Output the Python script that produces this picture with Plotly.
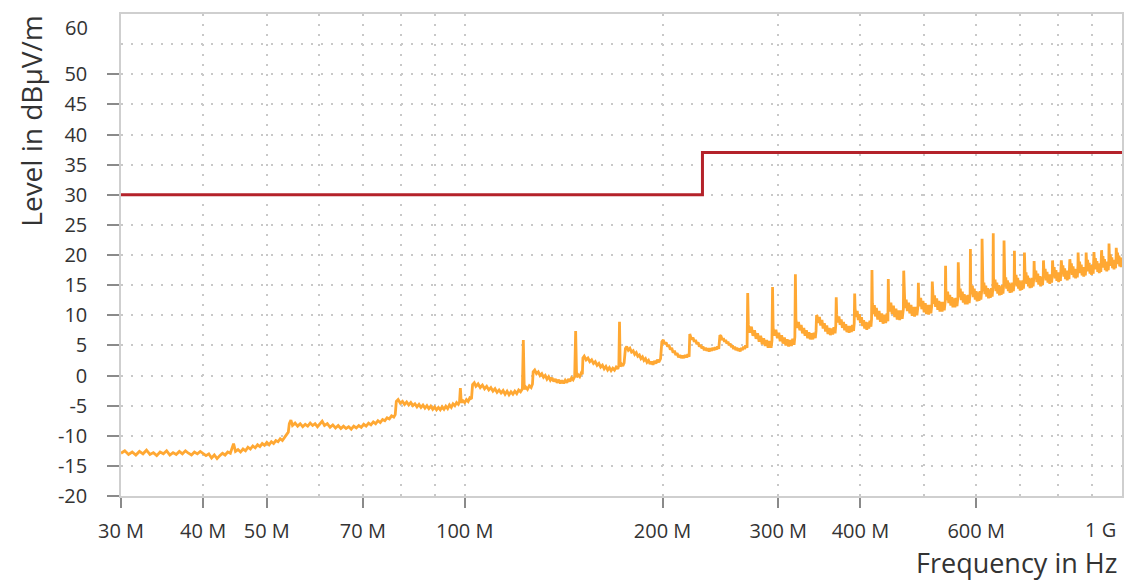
import plotly.graph_objects as go

# ---------------- data ----------------
# limit line: level in dBuV/m, frequency in MHz
limit_freq_mhz = [30, 230, 230, 1000]
limit_level = [30, 30, 37, 37]

# measured trace, (frequency MHz, level dBuV/m)
trace_30_79 = [
    (30.0, -12.9), (30.4, -12.5), (30.8, -13.1), (31.2, -12.7), (31.6, -13.2), (32.0, -12.6),
    (32.4, -13.0), (32.8, -12.4), (33.2, -13.1), (33.6, -12.8), (34.0, -13.3), (34.4, -12.7),
    (34.8, -13.0), (35.2, -12.5), (35.6, -13.2), (36.0, -12.8), (36.4, -13.1), (36.8, -12.6),
    (37.2, -13.0), (37.6, -12.5), (38.0, -12.9), (38.4, -13.2), (38.8, -12.7), (39.2, -13.0),
    (39.6, -12.6), (40.0, -12.9), (40.4, -13.3), (40.8, -13.0), (41.2, -13.7), (41.6, -13.2),
    (42.0, -13.8), (42.4, -13.3), (42.8, -12.9), (43.2, -13.2), (43.6, -12.7), (44.0, -12.9),
    (44.5, -11.3), (44.8, -12.6), (45.2, -12.3), (45.6, -12.7), (46.0, -12.2), (46.4, -12.5),
    (46.8, -11.9), (47.2, -12.2), (47.6, -11.7), (48.0, -12.0), (48.4, -11.5), (48.8, -11.8),
    (49.2, -11.3), (49.6, -11.6), (50.0, -11.1), (50.4, -11.5), (50.8, -11.0), (51.2, -11.3),
    (51.6, -10.8), (52.0, -11.0), (52.4, -10.5), (52.8, -10.8), (53.2, -10.2), (53.6, -9.8),
    (53.9, -9.4), (54.1, -8.0), (54.4, -7.4), (54.7, -8.3), (55.2, -7.9), (55.7, -8.4),
    (56.2, -8.0), (56.7, -8.5), (57.2, -8.1), (57.7, -8.4), (58.2, -7.9), (58.7, -8.3),
    (59.2, -8.0), (59.7, -8.5), (60.2, -8.1), (60.7, -7.6), (61.2, -8.3), (61.8, -8.0),
    (62.4, -8.6), (63.0, -8.2), (63.6, -8.7), (64.2, -8.3), (64.8, -8.8), (65.4, -8.4),
    (66.0, -8.8), (66.6, -8.5), (67.2, -8.9), (67.8, -8.4), (68.4, -8.7), (69.0, -8.3),
    (69.6, -8.6), (70.2, -8.1), (70.8, -8.4), (71.4, -7.9), (72.0, -8.2), (72.6, -7.7),
    (73.2, -8.0), (73.8, -7.5), (74.4, -7.8), (75.0, -7.3), (75.6, -7.5), (76.2, -7.0),
    (76.8, -7.2), (77.4, -6.7), (78.0, -6.9), (78.4, -6.5),
]
trace_79_200 = [
    (78.7, -4.3), (79.2, -4.0), (79.8, -4.6), (80.4, -4.3), (81.0, -4.8), (81.6, -4.4),
    (82.2, -4.9), (82.8, -4.5), (83.4, -5.0), (84.0, -4.7), (84.6, -5.2), (85.2, -4.8),
    (85.8, -5.3), (86.4, -4.9), (87.0, -5.4), (87.6, -5.0), (88.2, -5.5), (88.8, -5.1),
    (89.4, -5.6), (90.0, -5.2), (90.6, -5.7), (91.2, -5.3), (91.8, -5.7), (92.4, -5.2),
    (93.0, -5.6), (93.6, -5.1), (94.2, -5.5), (94.8, -4.9), (95.4, -5.3), (96.0, -4.7),
    (96.6, -5.0), (97.2, -4.5), (97.8, -4.8), (98.2, -4.4), (98.5, -2.1), (98.8, -4.5),
    (99.4, -4.2), (100.0, -4.5), (100.6, -4.0), (101.2, -4.3), (101.8, -3.7), (102.4, -3.9),
    (102.8, -1.5), (103.4, -1.2), (104.0, -1.8), (104.8, -1.4), (105.6, -2.0), (106.4, -1.6),
    (107.2, -2.2), (108.0, -1.8), (108.8, -2.4), (109.6, -2.0), (110.4, -2.6), (111.2, -2.2),
    (112.0, -2.8), (112.8, -2.4), (113.6, -2.9), (114.4, -2.5), (115.2, -3.1), (116.0, -2.6),
    (116.8, -3.2), (117.6, -2.7), (118.4, -3.1), (119.2, -2.6), (120.0, -3.0), (120.8, -2.4),
    (121.6, -2.7), (122.4, -2.2), (122.8, 5.9), (123.2, -2.3), (123.8, -1.9), (124.6, -2.3),
    (125.4, -1.7), (126.2, -2.0), (126.8, -1.4), (127.1, 0.6), (127.8, 0.9), (128.6, 0.3),
    (129.4, 0.6), (130.2, 0.0), (131.0, 0.3), (131.8, -0.3), (132.6, 0.0), (133.4, -0.6),
    (134.2, -0.2), (135.0, -0.8), (135.8, -0.4), (136.6, -1.0), (137.4, -0.6), (138.2, -1.2),
    (139.0, -0.7), (139.8, -1.3), (140.6, -0.8), (141.4, -1.3), (142.2, -0.8), (143.0, -1.2),
    (143.8, -0.6), (144.6, -1.0), (145.4, -0.4), (146.2, -0.7), (147.0, -0.2), (147.5, 7.4),
    (148.0, -0.3), (148.8, 0.1), (149.6, -0.2), (150.4, 0.4), (151.0, 0.2), (151.3, 2.9),
    (152.0, 3.2), (153.0, 2.6), (154.0, 2.9), (155.0, 2.3), (156.0, 2.6), (157.0, 2.0),
    (158.0, 2.3), (159.0, 1.7), (160.0, 2.0), (161.0, 1.4), (162.0, 1.7), (163.0, 1.1),
    (164.0, 1.5), (165.0, 0.9), (166.0, 1.3), (167.0, 0.8), (168.0, 1.2), (169.0, 0.9),
    (170.0, 1.4), (171.0, 1.1), (171.6, 1.7), (172.0, 8.9), (172.4, 1.5), (173.2, 1.9),
    (174.0, 1.6), (174.8, 2.1), (175.6, 4.5), (176.4, 4.8), (177.4, 4.2), (178.4, 4.5),
    (179.4, 3.9), (180.4, 4.1), (181.4, 3.5), (182.4, 3.8), (183.4, 3.2), (184.4, 3.4),
    (185.4, 2.8), (186.4, 3.1), (187.4, 2.5), (188.4, 2.8), (189.4, 2.2), (190.4, 2.5),
    (191.4, 1.9), (192.4, 2.3), (193.4, 1.8), (194.4, 2.4), (195.4, 2.0), (196.4, 2.6),
    (197.4, 2.2), (198.6, 2.8),
]
trace_200_416 = [
    (199.5, 5.6), (200.5, 5.9), (201.5, 5.2), (202.5, 5.5), (203.5, 4.8), (204.5, 5.1),
    (205.5, 4.3), (206.5, 4.6), (207.5, 3.8), (208.5, 4.1), (209.5, 3.4), (210.5, 3.7),
    (211.5, 3.0), (212.5, 3.4), (213.5, 2.9), (214.5, 3.3), (215.5, 2.9), (216.5, 3.4),
    (217.5, 3.0), (218.5, 3.5), (219.5, 3.1), (220.0, 6.9), (220.5, 6.5), (221.5, 6.0),
    (222.5, 6.3), (223.5, 5.6), (224.5, 5.9), (225.5, 5.2), (226.5, 5.5), (227.5, 4.8),
    (228.5, 5.1), (229.5, 4.5), (230.5, 4.8), (231.5, 4.2), (232.5, 4.6), (233.5, 4.1),
    (234.5, 4.5), (235.5, 4.0), (236.5, 4.5), (237.5, 4.1), (238.5, 4.6), (239.5, 4.2),
    (240.5, 4.7), (241.5, 4.3), (242.5, 4.8), (243.5, 4.4), (244.5, 6.7), (245.5, 6.5),
    (246.5, 5.9), (247.5, 6.2), (248.5, 5.6), (249.5, 5.9), (250.5, 5.3), (251.5, 5.6),
    (252.5, 5.0), (253.5, 5.3), (254.5, 4.7), (255.5, 5.0), (256.5, 4.4), (257.5, 4.8),
    (258.5, 4.2), (259.5, 4.6), (260.5, 4.1), (261.5, 4.5), (262.5, 4.0), (263.5, 4.6),
    (264.5, 4.2), (265.5, 4.8), (266.5, 4.4), (267.5, 5.0), (268.9, 4.6),
    (269.5, 13.7), (270.1, 8.4), (271.5, 7.1), (273.0, 8.1), (274.5, 6.6), (276.0, 7.5),
    (277.5, 6.1), (279.0, 7.0), (280.5, 5.6), (282.0, 6.6), (283.5, 5.2), (285.0, 6.2),
    (286.5, 4.9), (288.0, 5.9), (289.5, 4.6), (291.0, 5.7), (292.5, 4.6), (293.4, 5.8),
    (294.0, 14.7), (294.6, 7.9), (296.0, 6.6), (297.5, 7.6), (299.0, 6.2), (300.5, 7.1),
    (302.0, 5.7), (303.5, 6.7), (305.0, 5.3), (306.5, 6.3), (308.0, 5.0), (309.5, 6.0),
    (311.0, 4.8), (312.5, 5.9), (314.0, 4.9), (315.5, 6.1), (317.0, 5.1), (317.9, 6.4),
    (318.5, 16.8), (319.1, 9.3), (320.5, 7.9), (322.0, 8.9), (323.5, 7.5), (325.0, 8.4),
    (326.5, 7.0), (328.0, 7.9), (329.5, 6.6), (331.0, 7.5), (332.5, 6.2), (334.0, 7.2),
    (335.5, 6.0), (337.0, 7.0), (338.5, 6.0), (340.0, 7.1), (341.5, 6.2), (342.4, 7.4),
    (343.0, 10.0), (343.6, 9.9), (345.0, 8.7), (346.5, 9.7), (348.0, 8.3), (349.5, 9.2),
    (351.0, 7.8), (352.5, 8.7), (354.0, 7.3), (355.5, 8.3), (357.0, 6.9), (358.5, 7.9),
    (360.0, 6.7), (361.5, 7.8), (363.0, 6.8), (364.5, 8.0), (366.0, 7.0), (366.9, 8.3),
    (367.5, 13.0), (368.1, 10.1), (369.5, 8.8), (371.0, 9.8), (372.5, 8.4), (374.0, 9.3),
    (375.5, 7.9), (377.0, 8.9), (378.5, 7.5), (380.0, 8.5), (381.5, 7.2), (383.0, 8.2),
    (384.5, 7.1), (386.0, 8.2), (387.5, 7.2), (389.0, 8.4), (390.5, 7.4), (391.4, 8.7),
    (392.0, 13.6), (392.6, 11.1), (394.0, 9.7), (395.5, 10.7), (397.0, 9.2), (398.5, 10.2),
    (400.0, 8.7), (401.5, 9.7), (403.0, 8.2), (404.5, 9.2), (406.0, 7.8), (407.5, 8.9),
    (409.0, 7.6), (410.5, 8.8), (411.9, 7.8), (413.5, 9.1), (415.0, 8.1), (415.9, 9.4),
]
trace_416_1000 = [
    (416.5, 17.5), (417.1, 12.0), (418.5, 10.2), (420.0, 11.7), (421.5, 9.8), (423.0, 11.2),
    (425.0, 9.3), (427.0, 10.7), (429.0, 8.9), (431.0, 10.3), (433.0, 8.6), (435.0, 10.1),
    (437.0, 8.7), (439.0, 10.3), (440.4, 9.0),
    (441.0, 16.0), (441.6, 12.4), (443.0, 10.6), (445.0, 12.1), (447.0, 10.2), (449.0, 11.6),
    (451.0, 9.7), (453.0, 11.1), (455.0, 9.3), (457.0, 10.8), (459.0, 9.2), (461.0, 10.8),
    (463.0, 9.4), (464.9, 11.0),
    (465.5, 17.4), (466.1, 12.9), (467.5, 11.2), (469.5, 12.6), (471.5, 10.7), (473.5, 12.1),
    (475.5, 10.3), (477.5, 11.7), (479.5, 9.9), (481.5, 11.4), (483.5, 9.8), (485.5, 11.4),
    (487.5, 10.0), (489.4, 11.6),
    (490.0, 15.4), (490.6, 13.2), (492.0, 11.5), (494.0, 12.9), (496.0, 11.0), (498.0, 12.4),
    (500.0, 10.5), (502.0, 12.0), (504.0, 10.2), (506.0, 11.7), (508.0, 10.1), (510.0, 11.7),
    (512.0, 10.3), (513.9, 11.9),
    (514.5, 15.6), (515.1, 13.6), (516.5, 11.9), (518.5, 13.3), (520.5, 11.4), (522.5, 12.8),
    (524.5, 10.9), (526.5, 12.4), (528.5, 10.6), (530.5, 12.2), (532.5, 10.6), (534.5, 12.2),
    (536.5, 10.8), (538.4, 12.4),
    (539.0, 18.2), (539.6, 14.2), (541.0, 12.5), (543.0, 13.9), (545.0, 12.0), (547.0, 13.4),
    (549.0, 11.6), (551.0, 13.0), (553.0, 11.3), (555.0, 12.8), (557.0, 11.3), (559.0, 12.9),
    (561.0, 11.5), (562.9, 13.1),
    (563.5, 18.8), (564.1, 14.7), (565.5, 13.0), (567.5, 14.4), (569.5, 12.5), (571.5, 13.9),
    (573.5, 12.1), (575.5, 13.5), (577.5, 11.8), (579.5, 13.3), (581.5, 11.8), (583.5, 13.4),
    (585.5, 12.0), (587.4, 13.6),
    (588.0, 21.0), (588.6, 15.3), (590.0, 13.5), (592.0, 14.9), (594.0, 13.0), (596.0, 14.4),
    (598.0, 12.6), (600.0, 14.0), (602.0, 12.3), (604.0, 13.8), (606.0, 12.4), (608.0, 14.0),
    (610.0, 12.6), (611.9, 14.2),
    (612.5, 22.7), (613.1, 15.8), (614.5, 14.0), (616.5, 15.4), (618.5, 13.5), (620.5, 14.9),
    (622.5, 13.1), (624.5, 14.5), (626.5, 12.8), (628.5, 14.3), (630.5, 12.9), (632.5, 14.5),
    (634.5, 13.1), (636.4, 14.7),
    (637.0, 23.6), (637.6, 16.3), (639.0, 14.5), (641.0, 15.9), (643.0, 14.0), (645.0, 15.4),
    (647.0, 13.6), (649.0, 15.0), (651.0, 13.3), (653.0, 14.8), (655.0, 13.4), (657.0, 15.0),
    (659.0, 13.6), (660.9, 15.2),
    (661.5, 22.4), (662.1, 16.7), (663.5, 14.9), (665.5, 16.3), (667.5, 14.4), (669.5, 15.8),
    (671.5, 14.0), (673.5, 15.4), (675.5, 13.7), (677.5, 15.2), (679.5, 13.8), (681.5, 15.4),
    (683.5, 14.0), (685.4, 15.6),
    (686.0, 20.7), (686.6, 17.1), (688.0, 15.3), (690.0, 16.7), (692.0, 14.8), (694.0, 16.2),
    (696.0, 14.4), (698.0, 15.8), (700.0, 14.1), (702.0, 15.6), (704.0, 14.2), (706.0, 15.8),
    (708.0, 14.4), (709.9, 16.0),
    (710.5, 20.4), (711.1, 17.5), (712.5, 15.7), (714.5, 17.1), (716.5, 15.2), (718.5, 16.6),
    (720.5, 14.8), (722.5, 16.2), (724.5, 14.5), (726.5, 16.0), (728.5, 14.6), (730.5, 16.2),
    (732.5, 14.8), (734.4, 16.4),
    (735.0, 19.0), (735.6, 17.8), (737.0, 16.0), (739.5, 17.4), (742.0, 15.5), (744.5, 16.9),
    (747.0, 15.1), (749.5, 16.5), (752.0, 14.8), (754.5, 16.4), (757.0, 15.0), (758.9, 16.6),
    (759.5, 19.1), (760.1, 18.1), (761.5, 16.3), (764.0, 17.7), (766.5, 15.8), (769.0, 17.2),
    (771.5, 15.4), (774.0, 16.8), (776.5, 15.2), (779.0, 16.8), (781.5, 15.4), (783.4, 17.0),
    (784.0, 19.1), (784.6, 18.4), (786.0, 16.6), (788.5, 18.0), (791.0, 16.1), (793.5, 17.5),
    (796.0, 15.7), (798.5, 17.1), (801.0, 15.5), (803.5, 17.1), (806.0, 15.7), (807.9, 17.3),
    (808.5, 19.1), (809.1, 18.7), (810.5, 16.9), (813.0, 18.3), (815.5, 16.4), (818.0, 17.8),
    (820.5, 16.0), (823.0, 17.4), (825.5, 15.8), (828.0, 17.4), (830.5, 16.0), (832.4, 17.6),
    (833.0, 19.3), (833.6, 19.0), (835.0, 17.2), (837.5, 18.6), (840.0, 16.7), (842.5, 18.1),
    (845.0, 16.3), (847.5, 17.7), (850.0, 16.1), (852.5, 17.7), (855.0, 16.3), (856.9, 17.9),
    (857.5, 20.4), (858.1, 19.3), (859.5, 17.5), (862.0, 18.9), (864.5, 17.0), (867.0, 18.4),
    (869.5, 16.6), (872.0, 18.0), (874.5, 16.4), (877.0, 18.0), (879.5, 16.6), (881.4, 18.2),
    (882.0, 20.4), (882.6, 19.6), (884.0, 17.8), (886.5, 19.2), (889.0, 17.3), (891.5, 18.7),
    (894.0, 16.9), (896.5, 18.3), (899.0, 16.7), (901.5, 18.3), (904.0, 16.9), (905.9, 18.5),
    (906.5, 20.5), (907.1, 19.9), (908.5, 18.1), (911.0, 19.5), (913.5, 17.6), (916.0, 19.0),
    (918.5, 17.2), (921.0, 18.6), (923.5, 17.0), (926.0, 18.6), (928.5, 17.2), (930.4, 18.8),
    (931.0, 20.8), (931.6, 20.2), (933.0, 18.4), (935.5, 19.8), (938.0, 17.9), (940.5, 19.3),
    (943.0, 17.5), (945.5, 18.9), (948.0, 17.3), (950.5, 18.9), (953.0, 17.5), (954.9, 19.1),
    (955.5, 21.9), (956.1, 20.5), (957.5, 18.7), (960.0, 20.1), (962.5, 18.2), (965.0, 19.6),
    (967.5, 17.8), (970.0, 19.2), (972.5, 17.6), (975.0, 19.2), (977.5, 17.8), (979.4, 19.4),
    (980.0, 21.2), (980.6, 20.8), (982.0, 19.0), (984.5, 20.4), (987.0, 18.5), (989.5, 19.9),
    (992.0, 18.1), (994.5, 19.5), (997.0, 18.0), (1000.0, 19.6),
]

# axis ticks
x_tick_mhz = [30, 40, 50, 70, 100, 200, 300, 400, 600]
x_tick_text = ["30 M", "40 M", "50 M", "70 M", "100 M", "200 M", "300 M", "400 M", "600 M"]
x_grid_mhz = [60, 80, 90, 500, 700, 800, 900]
y_tick_vals = [-20, -15, -10, -5, 0, 5, 10, 15, 20, 25, 30, 35, 40, 45, 50]
y_tick_text = ["-20", "-15", "-10", "-5", "0", "5", "10", "15", "20", "25", "30", "35",
               "40", "45", "50"]
y_grid_extra = [55]

# ---------------- figure ----------------
trace_pairs = trace_30_79 + trace_79_200 + trace_200_416 + trace_416_1000
meas_freq_hz = [f * 1e6 for f, _ in trace_pairs]
meas_level = [v for _, v in trace_pairs]

fig = go.Figure()
fig.add_trace(go.Scatter(
    x=meas_freq_hz, y=meas_level, mode="lines",
    line=dict(color="#FFA833", width=2.8), showlegend=False, hoverinfo="skip"))
fig.add_trace(go.Scatter(
    x=[f * 1e6 for f in limit_freq_mhz], y=limit_level, mode="lines",
    line=dict(color="#B4222A", width=3), showlegend=False, hoverinfo="skip"))

grid_style = dict(gridcolor="#c8c8c8", gridwidth=2, griddash="2px,8px")
font_family = "Open Sans, Noto Sans, DejaVu Sans, sans-serif"
tick_font = dict(size=20, color="#333333", family=font_family)
title_font = dict(size=27, color="#333333", family=font_family)

fig.update_xaxes(
    type="log", range=[7.4771, 9.0],
    tickmode="array", tickvals=[f * 1e6 for f in x_tick_mhz], ticktext=x_tick_text,
    ticks="outside", ticklen=10, tickwidth=2, tickcolor="#8a8a8a",
    ticklabelstandoff=6,
    showgrid=True, **grid_style,
    minor=dict(tickmode="array", tickvals=[f * 1e6 for f in x_grid_mhz], ticks="",
               showgrid=True, **grid_style),
    showline=True, linecolor="#cfcfcf", linewidth=1.5, mirror=True,
    tickfont=tick_font, zeroline=False,
)
fig.update_yaxes(
    range=[-20, 60],
    tickmode="array", tickvals=y_tick_vals, ticktext=y_tick_text,
    ticks="outside", ticklen=12, tickwidth=2, tickcolor="#8a8a8a",
    ticklabelstandoff=16,
    showgrid=True, **grid_style,
    minor=dict(tickmode="array", tickvals=y_grid_extra, ticks="", showgrid=True, **grid_style),
    showline=True, linecolor="#cfcfcf", linewidth=1.5, mirror=True,
    tickfont=tick_font, zeroline=False,
)

fig.add_annotation(text="60", xref="paper", yref="y", x=0, y=60, xanchor="right",
                   yanchor="middle", xshift=-31, yshift=-13, showarrow=False, font=tick_font)
fig.add_annotation(text="1 G", xref="x", yref="paper", x=9.0, y=0, xanchor="right",
                   yanchor="top", xshift=-4, yshift=-18, showarrow=False, font=tick_font)
fig.add_annotation(text="Level in dBµV/m", xref="paper", yref="paper",
                   x=-0.0907, y=1.0, xanchor="center", yanchor="top", textangle=-90,
                   showarrow=False, font=dict(size=28, color="#333333", family=font_family))
fig.add_annotation(text="Frequency in Hz", xref="paper", yref="paper",
                   x=0.997, y=-0.139, xanchor="right", yanchor="middle",
                   showarrow=False, font=title_font)

fig.update_layout(
    width=1130, height=581,
    margin=dict(l=121, r=6, t=14, b=85),
    paper_bgcolor="white", plot_bgcolor="white",
    showlegend=False,
)

fig.write_html(
    "out.html",
    config={"displayModeBar": False},
    post_script="document.body.style.margin='0';document.body.style.overflow='hidden';",
)
